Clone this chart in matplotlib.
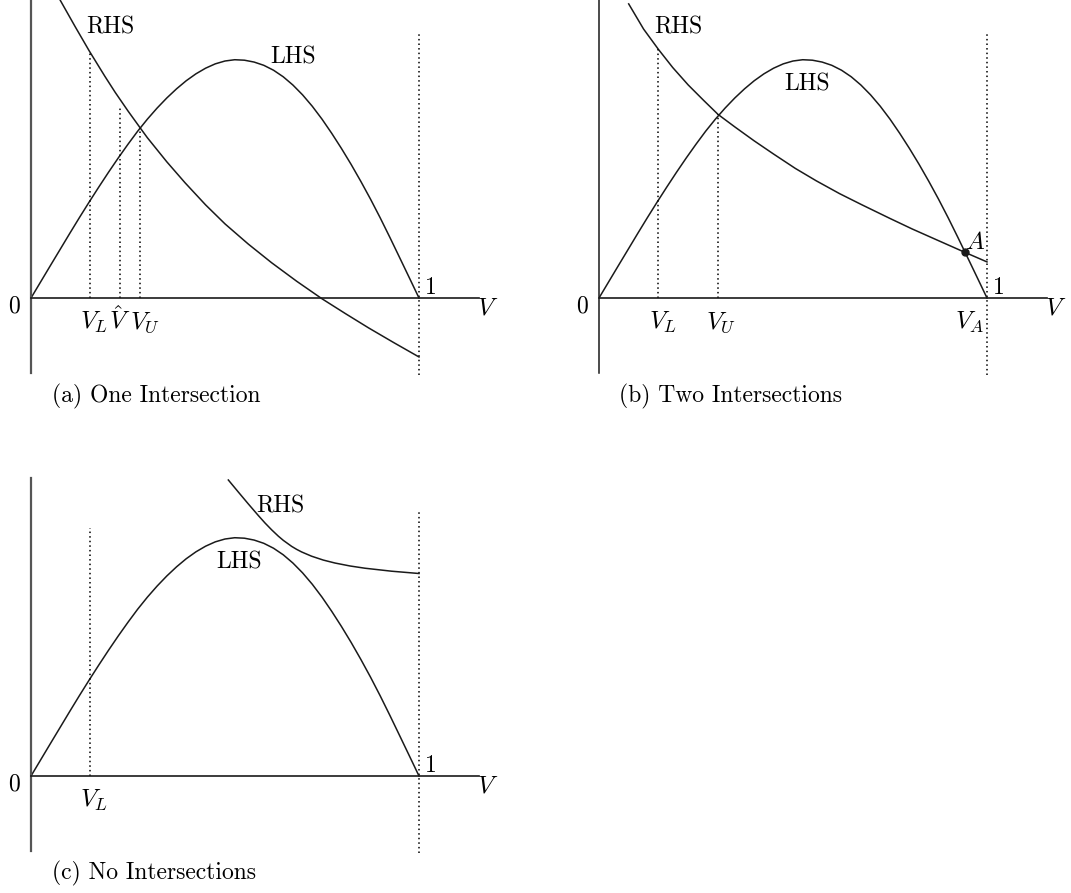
import matplotlib
matplotlib.use("Agg")
import matplotlib.pyplot as plt

plt.rcParams["font.family"] = "cmr10"
plt.rcParams["mathtext.fontset"] = "cm"
plt.rcParams["axes.formatter.use_mathtext"] = True

# LHS hump (same in all three cases)
lhs_v = [0.0, 0.025, 0.05, 0.075, 0.1, 0.125, 0.15, 0.175, 0.2, 0.225,
         0.25, 0.275, 0.3, 0.325, 0.35, 0.375, 0.4, 0.425, 0.45, 0.475,
         0.5, 0.525, 0.55, 0.575, 0.6, 0.625, 0.65, 0.675, 0.7, 0.725,
         0.75, 0.775, 0.8, 0.825, 0.85, 0.875, 0.9, 0.925, 0.95, 0.975, 1.0]
lhs_y = [0.0, 0.0418, 0.0836, 0.1251, 0.1667, 0.2076, 0.2475, 0.2864, 0.3244, 0.3611,
         0.3963, 0.4300, 0.4610, 0.4895, 0.5155, 0.5390, 0.5599, 0.5777, 0.5923, 0.6035,
         0.6108, 0.6141, 0.6129, 0.6081, 0.5997, 0.5871, 0.5702, 0.5489, 0.5235, 0.4941,
         0.4610, 0.4245, 0.3856, 0.3444, 0.3007, 0.2549, 0.2066, 0.1561, 0.1043, 0.0523, 0.0]

# RHS, case (a): one intersection
rhs_a_v = [0.075, 0.114, 0.15, 0.19, 0.217, 0.25, 0.281, 0.30, 0.35, 0.397,
           0.45, 0.5, 0.56, 0.62, 0.685, 0.75, 0.81, 0.87, 0.935, 1.0]
rhs_a_y = [0.768, 0.699, 0.637, 0.572, 0.530, 0.482, 0.439, 0.413, 0.351, 0.297,
           0.240, 0.191, 0.139, 0.091, 0.043, -0.002, -0.040, -0.077, -0.115, -0.152]

# RHS, case (b): two intersections
rhs_b_v = [0.0765, 0.115, 0.153, 0.190, 0.230, 0.270, 0.307, 0.350, 0.400, 0.450,
           0.506, 0.560, 0.620, 0.678, 0.750, 0.807, 0.870, 0.940, 1.0]
rhs_b_y = [0.758, 0.693, 0.641, 0.594, 0.549, 0.509, 0.473, 0.441, 0.405, 0.371,
           0.334, 0.302, 0.269, 0.240, 0.205, 0.178, 0.150, 0.119, 0.093]

# RHS, case (c): no intersection
rhs_c_v = [0.5086, 0.5344, 0.5601, 0.5859, 0.6031, 0.6203, 0.6375, 0.6503, 0.6718,
           0.6847, 0.6976, 0.7234, 0.7534, 0.7835, 0.8222, 0.8608, 0.9296, 1.0]
rhs_c_y = [0.7629, 0.7318, 0.7012, 0.6713, 0.6521, 0.6344, 0.6181, 0.6073, 0.5918,
           0.5841, 0.5774, 0.5664, 0.5565, 0.5489, 0.5413, 0.5355, 0.5278, 0.5219]

point_a = (0.943, 0.118)

W, H = 1071, 893
fig = plt.figure(figsize=(W / 100, H / 100), dpi=100)

XMAX = 448 / 388
YMIN, YMAX = -75 / 388, 298 / 388
INK = "#1a1a1a"
FS = 17
DOTS = (0, (1.0, 2.0))


def make_axes(left_px, top_px, axis_color, axis_lw):
    ax = fig.add_axes([left_px / W, 1 - (top_px + 373) / H, 448 / W, 373 / H])
    ax.set_xlim(0, XMAX)
    ax.set_ylim(YMIN, YMAX)
    ax.spines["top"].set_visible(False)
    ax.spines["right"].set_visible(False)
    ax.spines["bottom"].set_position(("data", 0))
    ax.spines["bottom"].set_color(INK)
    ax.spines["bottom"].set_linewidth(1.2)
    ax.spines["left"].set_color(axis_color)
    ax.spines["left"].set_linewidth(axis_lw)
    ax.set_xticks([])
    ax.set_yticks([])
    ax.patch.set_visible(False)
    # origin, 1 and V labels
    ax.text(-0.043, -0.022, "0", fontsize=FS, ha="center", va="center")
    ax.text(1.031, 0.027, "1", fontsize=FS, ha="center", va="center")
    ax.text(1.178, -0.027, "$V$", fontsize=FS + 1, ha="center", va="center")
    # dotted line at V = 1
    ax.plot([1, 1], [-0.198, 0.686], color="black", lw=1.1,
            ls=DOTS, clip_on=False)
    return ax


def vline(ax, x, top):
    ax.plot([x, x], [0, top], color="black", lw=1.1, ls=DOTS)


def vlabel(ax, x, s):
    ax.text(x, -0.078, s, fontsize=FS + 1, ha="center", va="baseline")


# (a) One Intersection
ax = make_axes(31, 0, "#555555", 1.6)
ax.plot(lhs_v, lhs_y, color=INK, lw=1.1)
ax.plot(rhs_a_v, rhs_a_y, color=INK, lw=1.1)
vline(ax, 0.153, 0.631)
vline(ax, 0.229, 0.495)
vline(ax, 0.281, 0.437)
vlabel(ax, 0.163, "$V_L$")
vlabel(ax, 0.229, r"$\hat{V}$")
vlabel(ax, 0.294, "$V_U$")
ax.text(0.205, 0.698, "RHS", fontsize=FS, ha="center", va="center")
ax.text(0.675, 0.621, "LHS", fontsize=FS, ha="center", va="center")
fig.text(52 / W, 1 - 396 / H, "(a) One Intersection", fontsize=FS,
         ha="left", va="center")

# (b) Two Intersections
ax = make_axes(599, 0, INK, 1.1)
ax.plot(lhs_v, lhs_y, color=INK, lw=1.1)
ax.plot(rhs_b_v, rhs_b_y, color=INK, lw=1.1)
vline(ax, 0.153, 0.643)
vline(ax, 0.307, 0.473)
vlabel(ax, 0.164, "$V_L$")
vlabel(ax, 0.314, "$V_U$")
vlabel(ax, 0.954, "$V_A$")
ax.plot([point_a[0]], [point_a[1]], "o", color=INK, ms=5)
ax.text(0.968, 0.142, "$A$", fontsize=FS + 1, ha="center", va="center")
ax.text(0.204, 0.698, "RHS", fontsize=FS, ha="center", va="center")
ax.text(0.536, 0.551, "LHS", fontsize=FS, ha="center", va="center")
fig.text(619 / W, 1 - 396 / H, "(b) Two Intersections", fontsize=FS,
         ha="left", va="center")

# (c) No Intersections
ax = make_axes(31, 478, "#555555", 1.6)
ax.plot(lhs_v, lhs_y, color=INK, lw=1.1)
ax.plot(rhs_c_v, rhs_c_y, color=INK, lw=1.1)
vline(ax, 0.153, 0.640)
vlabel(ax, 0.163, "$V_L$")
ax.text(0.643, 0.696, "RHS", fontsize=FS, ha="center", va="center")
ax.text(0.537, 0.550, "LHS", fontsize=FS, ha="center", va="center")
fig.text(52 / W, 1 - 873 / H, "(c) No Intersections", fontsize=FS,
         ha="left", va="center")

fig.savefig("out.png", dpi=100)
